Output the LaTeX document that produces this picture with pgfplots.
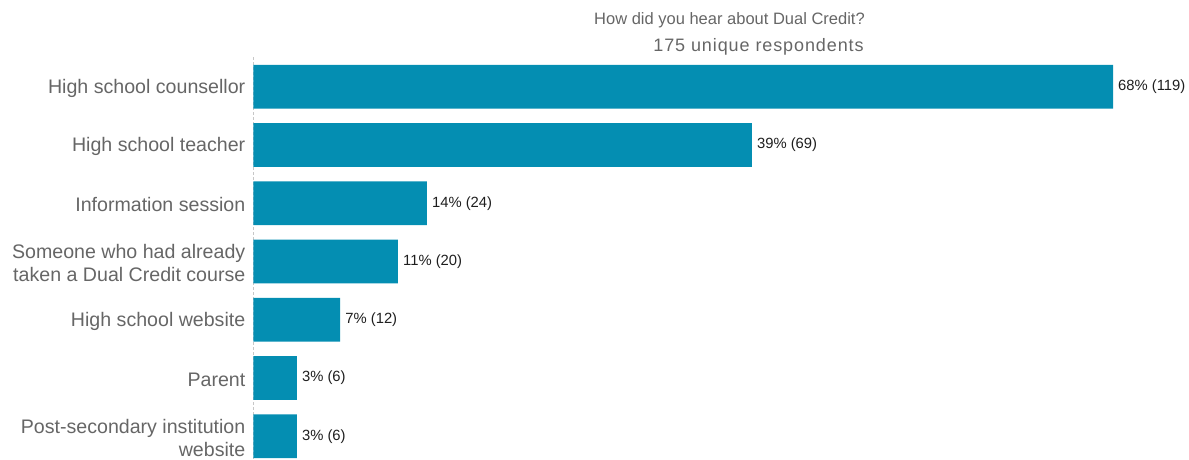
\documentclass[border=0pt]{standalone}
\usepackage{pgfplots}
\pgfplotsset{compat=1.18}
\usepackage{fontspec}
\setmainfont{Liberation Sans}
\definecolor{barblue}{RGB}{4,142,178}
\definecolor{labgray}{RGB}{102,102,102}
\definecolor{valblack}{RGB}{30,30,30}
\begin{document}
\begin{tikzpicture}
\path[use as bounding box] (-253.5pt,0pt) rectangle (935.5pt,459pt);
\begin{axis}[
  at={(0pt,0pt)}, anchor=south west,
  scale only axis,
  width=859.5pt, height=402pt,
  xmin=0, xmax=119,
  ymin=-0.512, ymax=6.391,
  y dir=reverse,
  xbar, bar width=43.7pt,
  clip=false,
  axis x line=none,
  axis y line*=left,
  y axis line style={-, draw=black!22, densely dashed, line width=0.8pt},
  ytick={0,1,2,3,4,5,6},
  yticklabels={High school counsellor,High school teacher,Information session,{Someone who had already\\taken a Dual Credit course},High school website,Parent,{Post-secondary institution\\website}},
  major tick length=0pt,
  yticklabel style={align=right, inner sep=0pt, xshift=-8pt, yshift=-1.5pt, text=labgray, font=\fontsize{19.6pt}{23pt}\selectfont},
  point meta=explicit symbolic,
  nodes near coords,
  nodes near coords style={anchor=west, inner sep=0pt, xshift=5pt, text=valblack, font=\fontsize{14.8pt}{17pt}\selectfont},
]
\addplot[fill=barblue, draw=none] coordinates {
  (119,0) [68\% (119)]
  (69,1) [39\% (69)]
  (24,2) [14\% (24)]
  (20,3) [11\% (20)]
  (12,4) [7\% (12)]
  (6,5) [3\% (6)]
  (6,6) [3\% (6)]
};
\end{axis}
\node[anchor=base, text=labgray, font=\fontsize{16.5pt}{20pt}\selectfont, inner sep=0pt] at (476pt,434pt) {How did you hear about Dual Credit?};
\node[anchor=base, text=labgray, font=\fontsize{18pt}{20pt}\selectfont\addfontfeatures{LetterSpace=5}, inner sep=0pt] at (505pt,407pt) {175 unique respondents};
\end{tikzpicture}
\end{document}
